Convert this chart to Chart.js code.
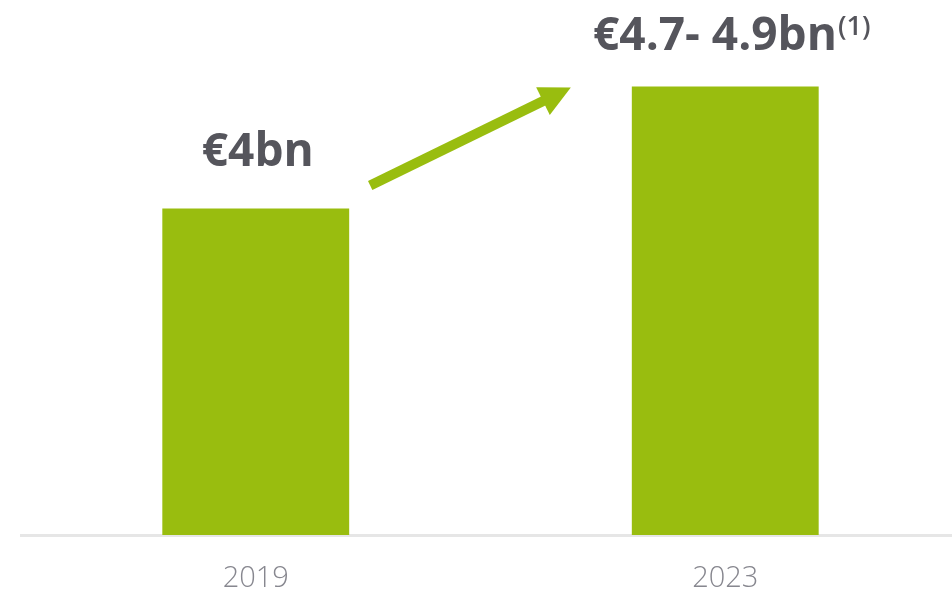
<!DOCTYPE html>
<html>
<head>
<meta charset="utf-8">
<script src="https://cdn.jsdelivr.net/npm/chart.js@4/dist/chart.umd.min.js"></script>
<style>
  html, body { margin: 0; padding: 0; background: #ffffff; overflow: hidden; }
  #wrap { width: 962px; height: 592px; }
</style>
</head>
<body>
<div id="wrap"><canvas id="c" width="962" height="592"></canvas></div>
<script>
// Revenue: 2019 actual vs 2023 target range (midpoint plotted)
const years = ['2019', '2023'];
const revenue = [4.0, 4.8];
const valueLabels = ['€4bn', '€4.7- 4.9bn'];
const footnotes = ['', '(1)'];

const GREEN = '#99bd0f';
const TEXT_DARK = '#55555c';
const TEXT_GREY = '#87878f';

const labelsPlugin = {
  id: 'valueLabels',
  afterDatasetsDraw(chart) {
    const ctx = chart.ctx;
    const meta = chart.getDatasetMeta(0);
    ctx.save();
    meta.data.forEach((bar, i) => {
      const main = valueLabels[i];
      const sup = footnotes[i];
      ctx.font = '700 46px "Open Sans", sans-serif';
      const wMain = ctx.measureText(main).width;
      ctx.font = '600 27px "Open Sans", sans-serif';
      const wSup = sup ? ctx.measureText(sup).width : 0;
      const total = wMain + wSup;
      const x0 = bar.x - total / 2 + (sup ? 6 : 2);
      const baseY = bar.y - (sup ? 37 : 43);
      ctx.fillStyle = TEXT_DARK;
      ctx.textBaseline = 'alphabetic';
      ctx.textAlign = 'left';
      ctx.font = '700 46px "Open Sans", sans-serif';
      ctx.fillText(main, x0, baseY);
      if (sup) {
        ctx.font = '600 27px "Open Sans", sans-serif';
        ctx.fillText(sup, x0 + wMain + 1, baseY - 15);
      }
    });
    ctx.restore();
  }
};

const arrowPlugin = {
  id: 'growthArrow',
  afterDatasetsDraw(chart) {
    const ctx = chart.ctx;
    const meta = chart.getDatasetMeta(0);
    const a = meta.data[0], b = meta.data[1];
    const sx = a.x + a.width / 2 + 21, sy = a.y - 23;
    const tx = b.x - b.width / 2 - 61, ty = b.y + 1;
    const ang = Math.atan2(ty - sy, tx - sx);
    const headLen = 31, headHalf = 15.5;
    const bx = tx - headLen * Math.cos(ang), by = ty - headLen * Math.sin(ang);
    ctx.save();
    ctx.strokeStyle = GREEN;
    ctx.fillStyle = GREEN;
    ctx.lineWidth = 10;
    ctx.lineCap = 'butt';
    ctx.beginPath();
    ctx.moveTo(sx, sy);
    ctx.lineTo(bx + 2 * Math.cos(ang), by + 2 * Math.sin(ang));
    ctx.stroke();
    ctx.beginPath();
    ctx.moveTo(tx, ty);
    ctx.lineTo(bx + headHalf * Math.sin(ang), by - headHalf * Math.cos(ang));
    ctx.lineTo(bx - headHalf * Math.sin(ang), by + headHalf * Math.cos(ang));
    ctx.closePath();
    ctx.fill();
    ctx.restore();
  }
};

new Chart(document.getElementById('c'), {
  type: 'bar',
  data: {
    labels: years,
    datasets: [{
      data: revenue,
      backgroundColor: GREEN,
      borderWidth: 0,
      barPercentage: 0.398,
      categoryPercentage: 1.0
    }]
  },
  options: {
    responsive: false,
    devicePixelRatio: 1,
    animation: false,
    layout: { padding: { left: 21, right: 2, top: 56, bottom: 0 } },
    plugins: { legend: { display: false }, tooltip: { enabled: false } },
    scales: {
      x: {
        grid: { display: false, drawTicks: false },
        border: { display: true, color: '#e6e6e6', width: 3 },
        ticks: {
          color: TEXT_GREY,
          padding: 26,
          font: { family: '"Open Sans", sans-serif', size: 29, weight: '300' }
        },
        afterFit(scale) { scale.height = 57; }
      },
      y: {
        display: false,
        min: 1.86,
        max: 5.0
      }
    }
  },
  plugins: [labelsPlugin, arrowPlugin]
});
</script>
</body>
</html>
